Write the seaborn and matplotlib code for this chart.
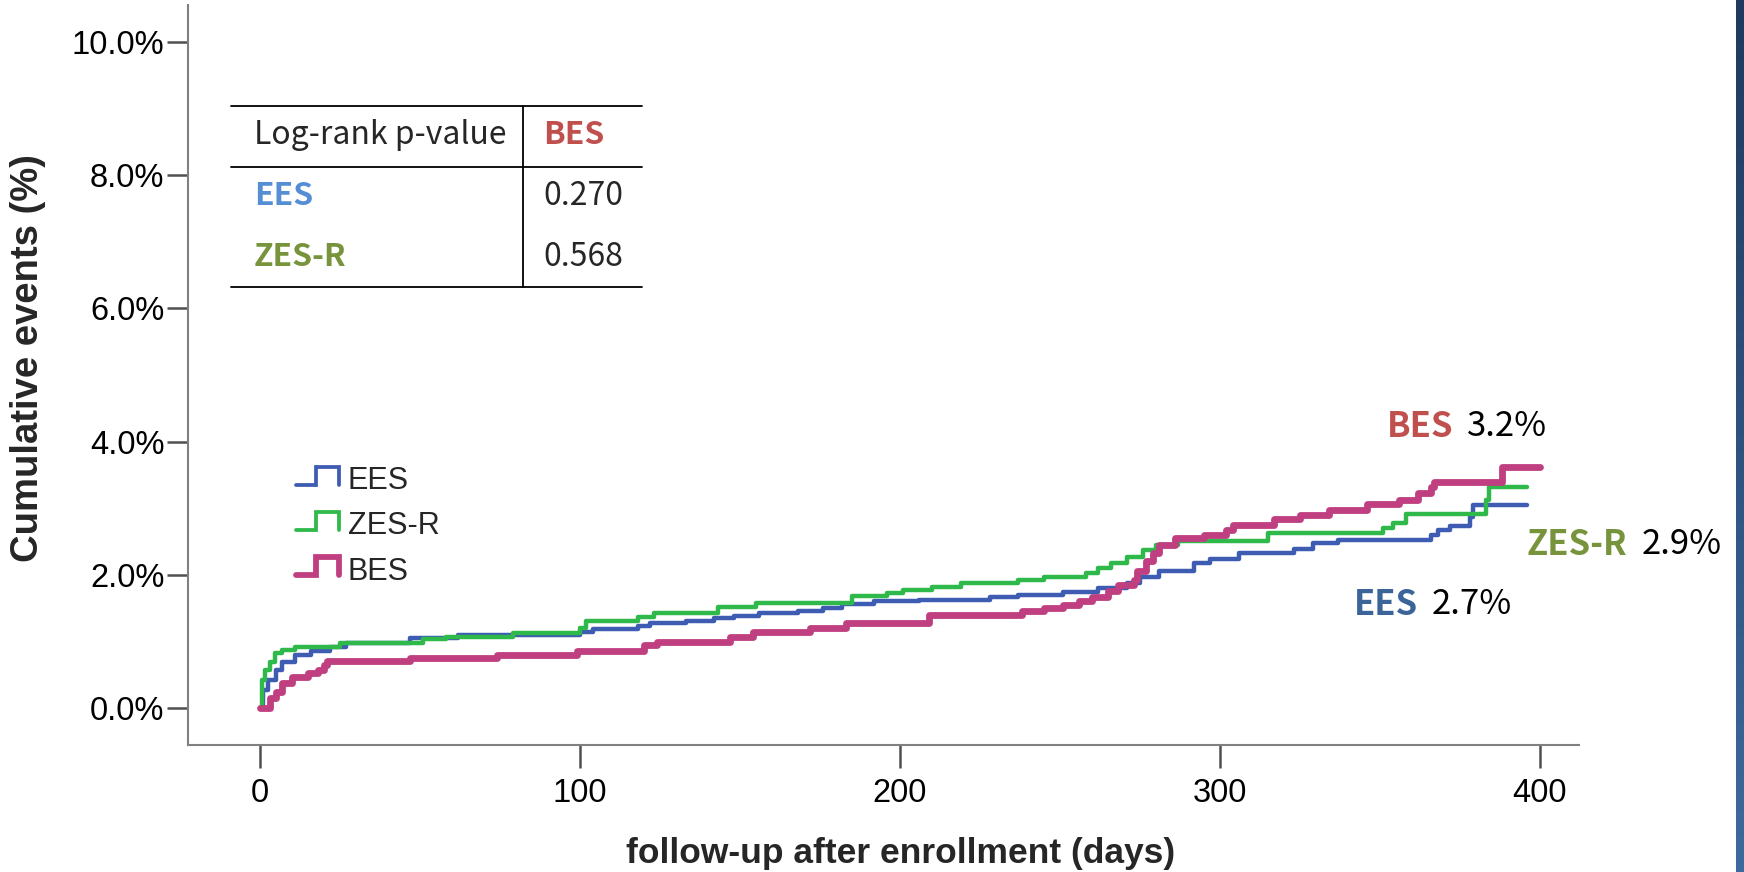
import numpy as np
import pandas as pd
import seaborn as sns
import matplotlib

matplotlib.use("Agg")
import matplotlib.pyplot as plt
from matplotlib.lines import Line2D
from matplotlib.legend_handler import HandlerBase

# Kaplan-Meier style cumulative event curves (days, % events)
EES_DAYS = [0, 1, 2.5, 5, 7, 11, 16, 22, 27, 47, 62, 100, 104, 118, 122, 133, 142, 148, 156, 168,
            176, 182, 192, 206, 228, 237, 251, 262, 271, 275, 281, 292, 297, 306, 323, 329, 337,
            366, 368, 372, 378, 379, 396]
EES_PCT = [0, 0.27, 0.42, 0.57, 0.69, 0.80, 0.86, 0.92, 0.97, 1.05, 1.10, 1.14, 1.18, 1.23, 1.27,
           1.31, 1.35, 1.38, 1.42, 1.46, 1.50, 1.56, 1.60, 1.62, 1.67, 1.70, 1.74, 1.80, 1.88, 1.97,
           2.05, 2.17, 2.24, 2.32, 2.39, 2.47, 2.52, 2.60, 2.67, 2.73, 2.87, 3.05, 3.05]

ZES_DAYS = [0, 0.6, 1.5, 3, 4.7, 7, 11, 25, 51, 58, 79, 100, 102, 118, 123, 143, 155, 185, 196,
            201, 210, 219, 237, 245, 258, 262, 266, 271, 276, 280, 287, 315, 351, 354, 358, 383,
            384, 396]
ZES_PCT = [0, 0.42, 0.57, 0.69, 0.82, 0.87, 0.91, 0.97, 1.03, 1.07, 1.12, 1.20, 1.31, 1.37, 1.43,
           1.52, 1.57, 1.68, 1.72, 1.77, 1.82, 1.88, 1.92, 1.97, 2.02, 2.10, 2.17, 2.27, 2.37,
           2.45, 2.50, 2.62, 2.70, 2.78, 2.91, 3.13, 3.32, 3.32]

BES_DAYS = [0, 3, 5, 7, 10, 15, 18, 20, 21, 47, 74, 99, 120, 124, 147, 154, 172, 183, 209, 238,
            245, 251, 256, 260, 265, 268, 273, 274, 277, 279, 281, 286, 295, 302, 304, 317, 325,
            334, 346, 356, 362, 366, 367, 388, 400]
BES_PCT = [0, 0.15, 0.24, 0.37, 0.47, 0.52, 0.57, 0.65, 0.70, 0.75, 0.80, 0.85, 0.95, 0.99, 1.06,
           1.14, 1.20, 1.27, 1.40, 1.45, 1.50, 1.55, 1.60, 1.67, 1.75, 1.85, 1.92, 2.05, 2.20,
           2.32, 2.45, 2.55, 2.60, 2.67, 2.75, 2.84, 2.90, 2.97, 3.07, 3.13, 3.23, 3.32, 3.39,
           3.62, 3.62]

GROUPS = ["EES", "ZES-R", "BES"]
LINE_COLORS = {"EES": "#3f5cb3", "ZES-R": "#2fb94b", "BES": "#bf3f80"}
LINE_WIDTHS = {"EES": 3.2, "ZES-R": 3.2, "BES": 4.9}

# log-rank table and final rates
PVAL_ROWS = ["EES", "ZES-R"]
PVAL_VALUES = ["0.270", "0.568"]
FINAL_RATE = {"BES": "3.2%", "ZES-R": "2.9%", "EES": "2.7%"}

_TEXT_COLORS = {"BES": "#c0504d", "ZES-R": "#77933c", "EES": "#558ed5"}
_NOTE_COLORS = {"BES": "#c0504d", "ZES-R": "#77933c", "EES": "#3b6499"}
_SPINE = "#808080"
_TICK = "#505050"

W, H = 1744, 872


def fx(px):
    return px / W


def fy(py):
    return 1 - py / H


class StepHandler(HandlerBase):
    """Legend glyph drawn as a small step, like the SPSS survival legend."""

    def create_artists(self, legend, orig_handle, xdescent, ydescent, width, height, fontsize, trans):
        xs = np.array([0.0, 0.45, 0.45, 0.97, 0.97]) * width - xdescent
        ys = np.array([0.2, 0.2, 1.05, 1.05, 0.2]) * height - ydescent
        line = Line2D(xs, ys, color=orig_handle.get_color(),
                      linewidth=orig_handle.get_linewidth() * 0.85, solid_joinstyle="miter")
        line.set_transform(trans)
        return [line]


sns.set_style("white")
plt.rcParams["font.family"] = ["Liberation Sans", "DejaVu Sans"]

curves = pd.concat([
    pd.DataFrame({"day": EES_DAYS, "pct": EES_PCT, "group": "EES"}),
    pd.DataFrame({"day": ZES_DAYS, "pct": ZES_PCT, "group": "ZES-R"}),
    pd.DataFrame({"day": BES_DAYS, "pct": BES_PCT, "group": "BES"}),
])

fig = plt.figure(figsize=(W / 100, H / 100), dpi=100)
fig.set_facecolor("white")
ax = fig.add_axes([fx(188), fy(745), fx(1579) - fx(188), fy(5) - fy(745)])

handles = []
for g in GROUPS:
    sns.lineplot(data=curves[curves["group"] == g], x="day", y="pct", color=LINE_COLORS[g],
                 linewidth=LINE_WIDTHS[g], drawstyle="steps-post", estimator=None,
                 legend=False, ax=ax)
    handles.append(Line2D([], [], color=LINE_COLORS[g], linewidth=LINE_WIDTHS[g]))

ax.set_xlim(-22.5, 412.2)
ax.set_ylim(-0.556, 10.556)
ax.set_xticks([0, 100, 200, 300, 400])
ax.set_yticks([0, 2, 4, 6, 8, 10])
ax.yaxis.set_major_formatter(plt.FuncFormatter(lambda v, _: f"{v:.1f}%"))
for side in ("top", "right"):
    ax.spines[side].set_visible(False)
for side in ("left", "bottom"):
    ax.spines[side].set_color(_SPINE)
    ax.spines[side].set_linewidth(1.5)
ax.tick_params(axis="x", bottom=True, direction="out", length=16.5, width=1.8, color=_TICK,
               pad=7, labelsize=23.5, labelcolor="black")
ax.tick_params(axis="y", left=True, direction="out", length=15, width=1.8, color=_TICK,
               pad=2, labelsize=23.5, labelcolor="black")
ax.set_xlabel("follow-up after enrollment (days)", fontsize=25.5, fontweight="bold")
ax.set_ylabel("Cumulative events (%)", fontsize=27.5, fontweight="bold")
ax.xaxis.set_label_coords(0.5126, -0.147)
ax.yaxis.set_label_coords(-0.115, 0.523)
ax.xaxis.label.set_va("center")
ax.yaxis.label.set_va("center")

leg = ax.legend(handles, GROUPS, handler_map={Line2D: StepHandler()},
                loc="upper left", bbox_to_anchor=(fx(296), fy(466)), bbox_transform=fig.transFigure,
                frameon=False, fontsize=22, handlelength=1.45, handletextpad=0.25,
                labelspacing=0.5, borderpad=0, borderaxespad=0)

# log-rank table
for py in (106, 167, 287):
    fig.add_artist(Line2D([fx(231), fx(642)], [fy(py), fy(py)], color="black", linewidth=1.3,
                          transform=fig.transFigure))
fig.add_artist(Line2D([fx(523), fx(523)], [fy(106), fy(287)], color="black", linewidth=1.3,
                      transform=fig.transFigure))
cjk = ["Noto Sans CJK KR", "DejaVu Sans"]
fig.text(fx(254), fy(135), "Log-rank p-value", family=cjk, fontsize=23, va="center")
fig.text(fx(543), fy(135), "BES", family=cjk, fontsize=23, va="center", fontweight="bold",
         color=_TEXT_COLORS["BES"])
for row_y, name, val in zip((196, 257), PVAL_ROWS, PVAL_VALUES):
    fig.text(fx(254), fy(row_y), name, family=cjk, fontsize=23, va="center", fontweight="bold",
             color=_TEXT_COLORS[name])
    fig.text(fx(543), fy(row_y), val, family=cjk, fontsize=23, va="center")

# end-of-curve rate labels
note_pos = {"BES": (352.2, 4.23), "ZES-R": (395.9, 2.45), "EES": (341.9, 1.55)}
for g, (xd, yd) in note_pos.items():
    lab = ax.text(xd, yd, g, family=cjk, fontsize=25, fontweight="bold", va="center",
                  color=_NOTE_COLORS[g], clip_on=False)
    ax.annotate(FINAL_RATE[g], xy=(1, 0.5), xycoords=lab, xytext=(10, 0),
                textcoords="offset points", va="center", family=cjk, fontsize=25,
                color="black", annotation_clip=False)

# dark slide edge on the right
strip = fig.add_axes([fx(1736), 0, 1 - fx(1736), 1])
strip.imshow(np.linspace(0, 1, 100).reshape(-1, 1), aspect="auto",
             cmap=matplotlib.colors.LinearSegmentedColormap.from_list("edge", ["#1f3a5e", "#3d6a9e"]))
strip.set_axis_off()

fig.savefig("out.png", dpi=100, facecolor=fig.get_facecolor())
plt.close(fig)
